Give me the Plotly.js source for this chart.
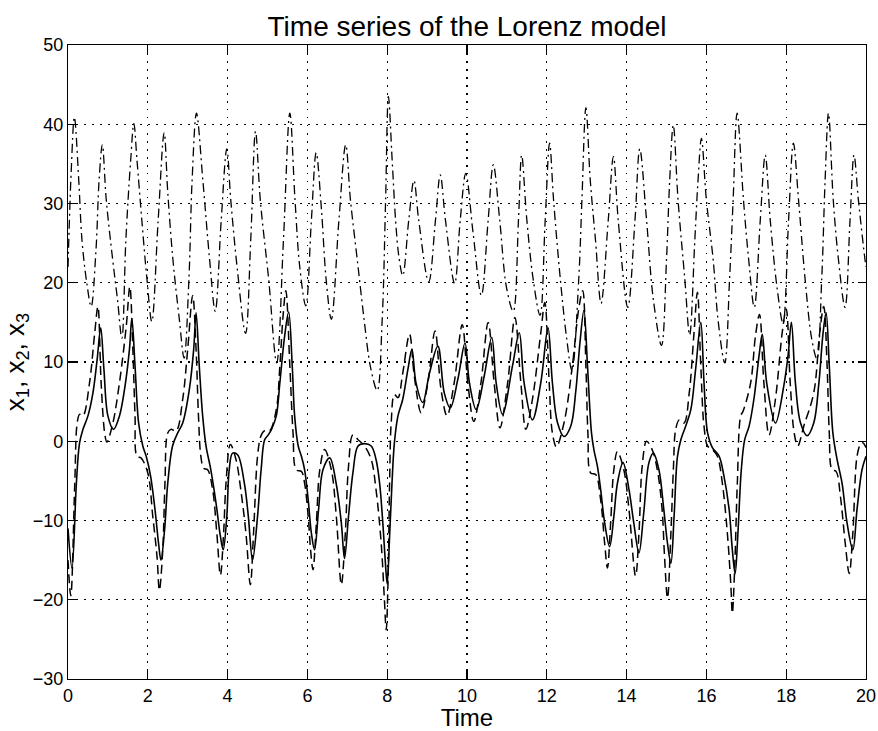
<!DOCTYPE html>
<html>
<head>
<meta charset="utf-8">
<script src="https://cdn.plot.ly/plotly-3.0.1.min.js"></script>
<style>html,body{margin:0;padding:0;background:#fff;}#chart{width:878px;height:731px;}</style>
</head>
<body>
<div id="chart"></div>
<script>
// Data: [time, value]
const x1Points = [
  [0,-11],[0.1,-16],[0.21,-5.3],[0.29,-0.2],[0.375,1.5],[0.5,3.2],[0.625,6.1],[0.73,10.3],[0.82,14.3],[0.9,9.1],
  [1.0,3.2],[1.14,1.5],[1.29,3.2],[1.43,7],[1.54,11.6],[1.6,15.5],[1.68,9.5],[1.77,2.3],[1.875,-0.6],[1.96,-1.9],
  [2.07,-4.4],[2.18,-8.6],[2.27,-12.9],[2.33,-15],[2.42,-11.2],[2.5,-5.3],[2.62,-0.6],[2.75,1.05],[2.875,2.3],[3.04,6.5],
  [3.15,11.6],[3.21,16.2],[3.29,9.5],[3.375,3.2],[3.46,-0.6],[3.58,-3.6],[3.71,-7.8],[3.82,-12],[3.89,-13.7],[3.98,-9.5],
  [4.04,-3.6],[4.125,-1.5],[4.25,-1.7],[4.42,-5.3],[4.52,-9.5],[4.625,-15],[4.75,-9.5],[4.84,-3.6],[4.93,0.2],[5.02,0.8],
  [5.1,1.5],[5.22,3.2],[5.31,7.4],[5.43,13.3],[5.53,16.3],[5.62,9.5],[5.68,3.2],[5.77,-0.6],[5.85,-1.9],[5.93,-3.6],
  [6.02,-7.4],[6.1,-11.6],[6.18,-13.7],[6.28,-8.6],[6.39,-3.6],[6.56,-2.1],[6.72,-5.3],[6.85,-10.3],[6.93,-14.8],[7.03,-9.5],
  [7.14,-4],[7.27,-0.6],[7.43,-0.3],[7.6,-0.6],[7.72,-2.3],[7.81,-5.3],[7.89,-10.3],[7.95,-15],[8.0,-18],[8.06,-12],
  [8.12,-5.3],[8.18,-0.2],[8.27,3.2],[8.39,5.3],[8.52,9.1],[8.62,11.6],[8.72,7.4],[8.89,4.9],[9.06,8.6],[9.27,12],
  [9.43,6.1],[9.58,4.2],[9.77,7.8],[9.95,12.4],[10.06,7.4],[10.23,4],[10.43,8.2],[10.62,13.1],[10.73,7.4],[10.89,3.4],
  [11.14,9.5],[11.31,13.7],[11.43,7.4],[11.64,2.7],[11.85,7.4],[12.03,14.3],[12.14,7.4],[12.27,2.3],[12.43,0.6],[12.6,1.9],
  [12.73,6.5],[12.83,12.4],[12.93,16.5],[13.02,9.5],[13.12,1.05],[13.18,-1.05],[13.27,-3.2],[13.35,-6.1],[13.45,-10.3],[13.575,-13.3],
  [13.68,-9.5],[13.77,-5.3],[13.91,-2.7],[14.06,-6.1],[14.18,-10.3],[14.31,-14.1],[14.43,-9],[14.56,-2.7],[14.67,-1.5],[14.81,-3.6],
  [14.93,-8.5],[15.025,-12.9],[15.11,-15.4],[15.19,-9.5],[15.275,-1.9],[15.36,0.2],[15.48,1.9],[15.61,4],[15.73,9.1],[15.86,15],
  [15.94,7.4],[16.03,1.05],[16.15,-0.8],[16.32,-1.9],[16.44,-4.4],[16.57,-8.6],[16.65,-13.7],[16.72,-16.7],[16.79,-11.6],[16.875,-3.6],
  [16.96,0.2],[17.07,1.9],[17.19,5.3],[17.32,10.8],[17.4,13.5],[17.51,7.4],[17.73,2.3],[17.94,7],[18.05,11],[18.13,15],
  [18.23,7.4],[18.36,2.3],[18.525,0.7],[18.69,2.3],[18.82,7.4],[18.925,13.7],[19.0,16.2],[19.08,9.5],[19.17,1.05],[19.275,-2.3],
  [19.4,-5.3],[19.525,-10.3],[19.67,-13.7],[19.775,-8.6],[19.9,-3.6],[20.0,-1.9]
];
const x2Points = [
  [0,-15],[0.07,-19.5],[0.17,-5.3],[0.23,2.3],[0.29,3.4],[0.375,3.2],[0.54,7.4],[0.67,13.7],[0.75,17],[0.83,7.4],
  [0.92,1],[0.975,-0.1],[1.125,2.3],[1.29,7.4],[1.46,14.5],[1.55,19.5],[1.625,11.6],[1.68,3.2],[1.73,-1.9],[1.83,-2.1],
  [2.0,-4],[2.125,-9.5],[2.23,-14.5],[2.29,-18.8],[2.375,-13.7],[2.43,-5.3],[2.5,1.05],[2.58,1.5],[2.71,1.3],[2.875,5.3],
  [3.0,11.6],[3.125,18.4],[3.21,11.6],[3.27,3.2],[3.33,-1.9],[3.4,-3.4],[3.5,-3.6],[3.625,-6.1],[3.73,-11.6],[3.82,-16.9],
  [3.9,-11.6],[3.96,-5.3],[4.07,-0.4],[4.21,-2.3],[4.33,-6.1],[4.46,-11.6],[4.57,-18.1],[4.65,-11.6],[4.75,-1.9],[4.83,0.6],
  [4.92,1.3],[5.05,1.3],[5.22,4],[5.31,9.5],[5.39,15.8],[5.46,19],[5.56,9.5],[5.64,1.05],[5.72,-3.6],[5.85,-3.8],
  [5.93,-5.3],[6.02,-9.5],[6.08,-13.7],[6.14,-16.2],[6.225,-10.3],[6.31,-3.6],[6.43,-1.05],[6.6,-3.6],[6.725,-9.5],[6.85,-18.1],
  [6.95,-11.6],[7.03,-3.2],[7.14,0.8],[7.27,0.2],[7.43,-0.6],[7.6,-2.3],[7.72,-6.1],[7.85,-12.9],[7.93,-20],[7.975,-23.8],
  [8.02,-17.9],[8.06,-5.3],[8.1,2.3],[8.18,5.9],[8.27,5.5],[8.39,8.6],[8.56,13.5],[8.68,8.2],[8.85,3.6],[9.02,7.4],
  [9.2,13.9],[9.35,6.5],[9.5,3.2],[9.68,7.4],[9.88,14.7],[10.02,7.4],[10.17,2.5],[10.35,7.4],[10.53,15],[10.68,7.4],
  [10.825,1.7],[11.02,7.4],[11.2,15.6],[11.35,7.4],[11.475,1.5],[11.64,5.3],[11.85,13.7],[11.95,17.5],[12.06,7.4],[12.14,1.05],
  [12.24,-0.7],[12.43,2.3],[12.64,9.5],[12.8,16.7],[12.9,19],[12.98,9.5],[13.03,1.05],[13.1,-4],[13.225,-4.2],[13.35,-7.4],
  [13.45,-12.9],[13.52,-16],[13.6,-10.3],[13.68,-3.6],[13.77,-1.3],[13.93,-3.6],[14.06,-8.6],[14.225,-17],[14.31,-11.6],[14.39,-3.2],
  [14.5,0],[14.64,-1.05],[14.77,-3.6],[14.89,-8.6],[14.95,-14.5],[15.025,-19.8],[15.11,-11.6],[15.175,-3.2],[15.23,1.5],[15.32,2.7],
  [15.44,2.3],[15.57,6.1],[15.69,13.7],[15.775,18.8],[15.86,9.5],[15.94,1.9],[16.03,-0.6],[16.15,-1.05],[16.275,-1.9],[16.4,-5.3],
  [16.525,-11.6],[16.61,-17.9],[16.65,-21.7],[16.71,-15.8],[16.775,-5.3],[16.86,3.2],[16.92,3.8],[17.11,7.4],[17.23,13.3],[17.33,16],
  [17.44,7.4],[17.57,0.8],[17.73,5.3],[17.9,13.7],[18.0,16.7],[18.1,7.4],[18.2,1.05],[18.29,-0.6],[18.44,1.9],[18.69,6.1],
  [18.84,13.7],[18.94,17],[19.025,9.5],[19.08,1.05],[19.15,-3.6],[19.25,-3.8],[19.36,-7],[19.48,-12.9],[19.58,-16.7],[19.67,-11.6],
  [19.775,-1.9],[19.86,-0.4],[19.92,-0.2],[20.0,-0.8]
];
const x3Points = [
  [0,22],[0.08,34],[0.16,40.9],[0.27,32.9],[0.35,25.4],[0.47,20],[0.58,17],[0.7,24],[0.78,33],[0.86,37.4],
  [0.96,30.4],[1.12,22.9],[1.24,17.9],[1.35,13],[1.45,25.4],[1.57,35.4],[1.65,40.1],[1.73,35.4],[1.85,27.9],[1.98,20.4],
  [2.1,15.1],[2.26,27.9],[2.41,38.9],[2.5,31.4],[2.63,22.9],[2.79,15.4],[2.91,10.5],[3.03,20.4],[3.11,32.9],[3.22,41.4],
  [3.38,32.9],[3.55,22.9],[3.69,16.4],[3.84,27.9],[3.98,36.9],[4.08,30.4],[4.25,21.4],[4.45,13.6],[4.58,25.4],[4.7,39.1],
  [4.82,30.4],[5.03,20.4],[5.23,9.9],[5.4,25.4],[5.56,41.4],[5.69,30.4],[5.81,21.9],[5.96,17.1],[6.1,27.9],[6.22,36.4],
  [6.35,29.4],[6.47,20.4],[6.6,15.4],[6.79,27.9],[6.96,37.4],[7.08,30.4],[7.25,22.9],[7.42,15.4],[7.58,9.4],[7.75,6.4],
  [7.875,15.4],[7.96,30.4],[8.03,43.5],[8.125,35.4],[8.21,27.9],[8.29,23.4],[8.39,20.9],[8.54,27.9],[8.67,32.9],[8.79,27.9],
  [9.04,20.1],[9.21,27.9],[9.33,33.6],[9.46,27.9],[9.69,19.9],[9.83,27.9],[9.97,33.8],[10.15,26.4],[10.36,18.4],[10.53,27.9],
  [10.66,34.9],[10.82,27.9],[10.99,19.4],[11.16,16.4],[11.29,27.9],[11.37,36.1],[11.5,27.9],[11.66,20.4],[11.83,15.9],[11.96,27.9],
  [12.07,37.6],[12.17,30.4],[12.34,20.4],[12.5,12.9],[12.63,8.9],[12.8,20.4],[12.88,30.4],[12.98,42.1],[13.09,32.9],[13.22,25.4],
  [13.36,17.4],[13.54,27.9],[13.67,35.9],[13.79,27.9],[14.03,16.9],[14.21,27.9],[14.33,36.9],[14.5,27.9],[14.67,17.9],[14.875,12.1],
  [15.0,22.9],[15.08,32.9],[15.17,39.9],[15.29,30.4],[15.46,20.4],[15.58,13.4],[15.71,25.4],[15.79,32.9],[15.875,38.2],[16.0,30.4],
  [16.17,22.9],[16.29,15.4],[16.46,9.9],[16.58,20.4],[16.67,30.4],[16.77,41.4],[16.93,30.4],[17.06,22.9],[17.2,16.9],[17.35,27.9],
  [17.475,36.1],[17.6,27.9],[17.77,19.4],[17.92,14.9],[18.06,27.9],[18.18,37.6],[18.31,30.4],[18.475,20.4],[18.64,12.9],[18.77,10.4],
  [18.89,20.4],[18.975,32.9],[19.06,41.4],[19.18,30.4],[19.31,22.9],[19.475,16.9],[19.6,27.9],[19.7,36.1],[19.81,30.4],[19.975,22.9],
  [20,22]
];
const xTicks = [0,2,4,6,8,10,12,14,16,18,20];
const yTicks = [-30,-20,-10,0,10,20,30,40,50];
const titleText = 'Time series of the Lorenz model';
const xLabel = 'Time';
const yLabel = 'x<sub>1</sub>, x<sub>2</sub>, x<sub>3</sub>';

const FONT = 'Liberation Sans, Arial, Helvetica, sans-serif';
function mk(pts, dash, width) {
  return {
    x: pts.map(p => p[0]), y: pts.map(p => p[1]),
    type: 'scatter', mode: 'lines',
    line: {color: '#000', width: width, dash: dash, shape: 'spline', smoothing: 1},
    hoverinfo: 'skip', showlegend: false
  };
}
const data = [
  mk(x3Points, '9px,4px,2px,4px', 1.3),
  mk(x2Points, '9px,5px', 1.5),
  mk(x1Points, 'solid', 1.6)
];
const axisCommon = {
  showline: true, linecolor: '#000', linewidth: 1.2, mirror: 'allticks',
  ticks: 'inside', ticklen: 8, tickcolor: '#000', tickwidth: 1.2,
  showgrid: true, gridcolor: '#000', gridwidth: 1.2, griddash: '1.5px,6.5px',
  zeroline: false, tickfont: {family: FONT, size: 18, color: '#000'},
  fixedrange: true
};
const layout = {
  width: 878, height: 731,
  margin: {l: 68, r: 12, t: 45, b: 52},
  paper_bgcolor: '#fff', plot_bgcolor: '#fff',
  font: {family: FONT, color: '#000'},
  title: {text: titleText, font: {family: FONT, size: 28, color: '#000'},
          x: 0.5, xref: 'paper', xanchor: 'center', y: 1, yref: 'paper', yanchor: 'bottom', pad: {b: 9}},
  xaxis: Object.assign({}, axisCommon, {range: [0, 20], tickvals: xTicks, ticktext: xTicks.map(String),
          title: {text: xLabel, font: {family: FONT, size: 24, color: '#000'}, standoff: 0}}),
  yaxis: Object.assign({}, axisCommon, {range: [-30, 50], tickvals: yTicks, ticktext: yTicks.map(v => v < 0 ? '\u2212' + Math.abs(v) : String(v)),
          title: {text: yLabel, font: {family: FONT, size: 26, color: '#000'}, standoff: 4}})
};
Plotly.newPlot('chart', data, layout, {staticPlot: true, displayModeBar: false});
</script>
</body>
</html>
